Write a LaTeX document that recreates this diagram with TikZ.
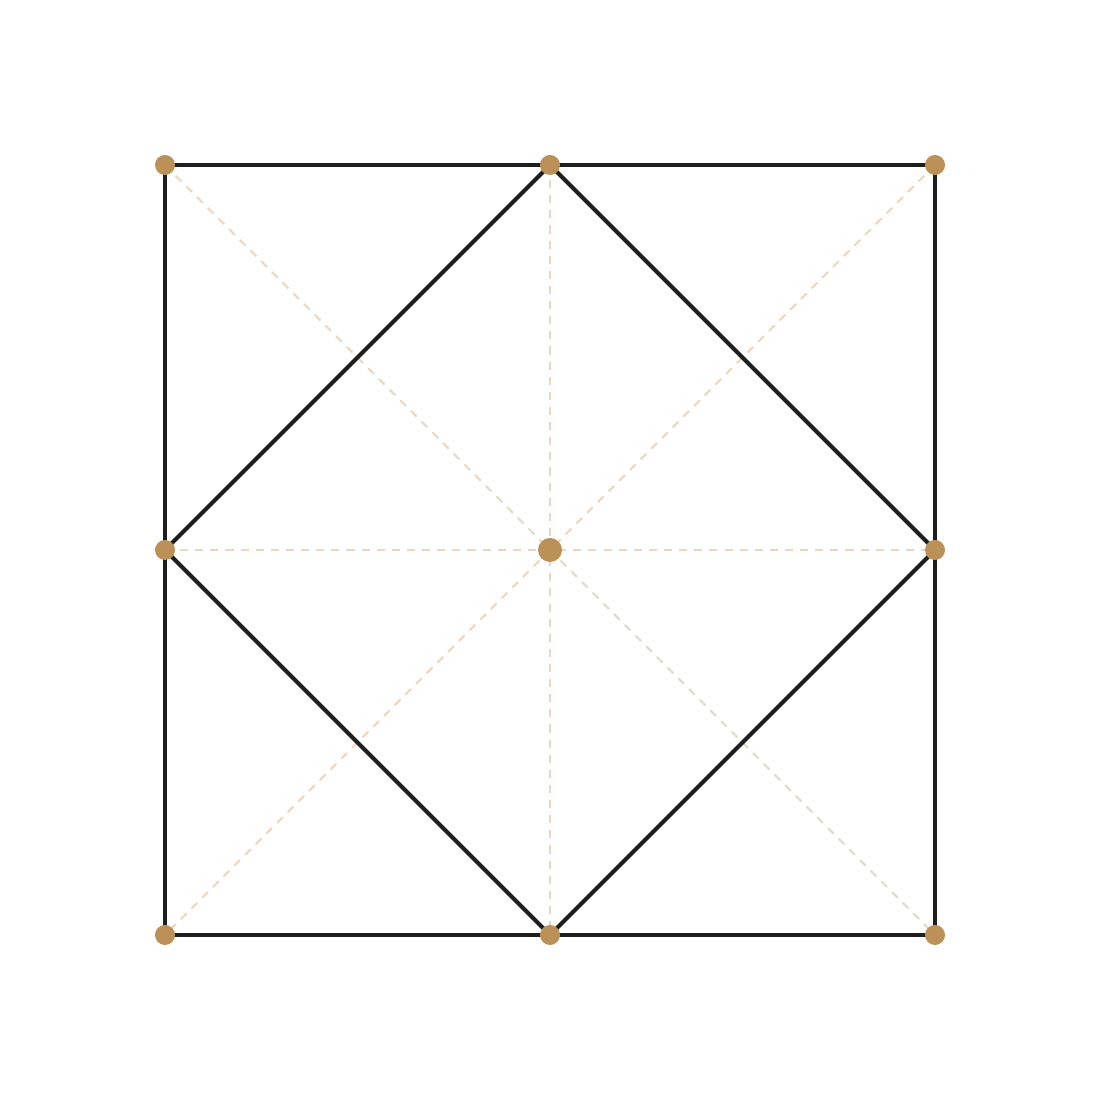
\documentclass[tikz,border=0pt]{standalone}
\usepackage{tikz}
\usetikzlibrary{positioning}

\definecolor{dotbrown}{HTML}{BC9158}
\definecolor{guide}{HTML}{EDD5BD}
\definecolor{ink}{HTML}{1E1E1E}

\begin{document}
\begin{tikzpicture}[
  x=0.01cm, y=0.01cm,
  edge/.style={draw=ink, line width=1.15pt, line cap=round, line join=round},
  guideline/.style={draw=guide, line width=0.55pt, dash pattern=on 2.3pt off 2pt},
  vertex/.style={circle, fill=dotbrown, inner sep=0pt, minimum size=0.2cm},
  hub/.style={circle, fill=dotbrown, inner sep=0pt, minimum size=0.24cm}
]
\useasboundingbox (0,0) rectangle (1100,1100);

% Points
\coordinate (nw) at (165,935);
\coordinate (n)  at (550,935);
\coordinate (ne) at (935,935);
\coordinate (w)  at (165,550);
\coordinate (c)  at (550,550);
\coordinate (e)  at (935,550);
\coordinate (sw) at (165,165);
\coordinate (s)  at (550,165);
\coordinate (se) at (935,165);

% Guides
\draw[guideline] (nw) -- (se);
\draw[guideline] (ne) -- (sw);
\draw[guideline] (n) -- (s);
\draw[guideline] (w) -- (e);

% Outer square and diamond
\draw[edge] (nw) -- (ne) -- (se) -- (sw) -- cycle;
\draw[edge] (n) -- (e) -- (s) -- (w) -- cycle;

% Dots
\foreach \p in {nw,n,ne,w,e,sw,s,se}
  \node[vertex] at (\p) {};
\node[hub] (hubdot) at (c) {};

\end{tikzpicture}
\end{document}
